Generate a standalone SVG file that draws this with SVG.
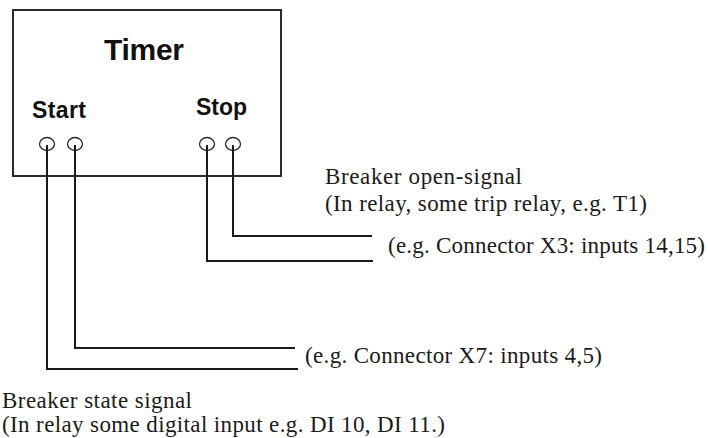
<svg xmlns="http://www.w3.org/2000/svg" width="708" height="438" viewBox="0 0 708 438">
<style>
.box{fill:#fff;stroke:#2a2a2a;stroke-width:2}
.wire{fill:none;stroke:#1a1a1a;stroke-width:2}
.pin{fill:#fff;stroke:#2a2a2a;stroke-width:1.3}
.hd{font-family:"Liberation Sans",Arial,sans-serif;font-weight:bold;fill:#111}
.lbl{font-family:"Liberation Serif","Times New Roman",serif;font-size:23px;fill:#1a1a1a}
</style>
<rect width="708" height="438" fill="#fff"/>
<g id="connectors">
<polyline class="wire" points="47,145 47,369 298,369"/>
<polyline class="wire" points="75,145 75,348 295,348"/>
<polyline class="wire" points="207,145 207,261 373,261"/>
<polyline class="wire" points="233,145 233,236 372,236"/>
</g>
<g id="timer">
<rect class="box" x="13" y="10" width="268" height="166"/>
<text class="hd" x="104" y="60" font-size="30" textLength="80">Timer</text>
<text class="hd" x="32" y="118" font-size="23" textLength="54">Start</text>
<text class="hd" x="196" y="115" font-size="23" textLength="51">Stop</text>
<ellipse class="pin" cx="47" cy="144" rx="7.5" ry="6.5"/>
<ellipse class="pin" cx="75" cy="144" rx="7.5" ry="6.5"/>
<ellipse class="pin" cx="207" cy="144" rx="7.5" ry="6.5"/>
<ellipse class="pin" cx="233" cy="144" rx="7.5" ry="6.5"/>
<line class="wire" x1="47" y1="145" x2="47" y2="176"/>
<line class="wire" x1="75" y1="145" x2="75" y2="176"/>
<line class="wire" x1="207" y1="145" x2="207" y2="176"/>
<line class="wire" x1="233" y1="145" x2="233" y2="176"/>
</g>
<g id="stop-label">
<text class="lbl" x="325" y="184" textLength="197">Breaker open-signal</text>
<text class="lbl" x="325" y="211" textLength="322">(In relay, some trip relay, e.g. T1)</text>
</g>
<g id="stop-connector-label">
<text class="lbl" x="388" y="253" textLength="317">(e.g. Connector X3: inputs 14,15)</text>
</g>
<g id="start-connector-label">
<text class="lbl" x="305" y="363" textLength="297">(e.g. Connector X7: inputs 4,5)</text>
</g>
<g id="start-label">
<text class="lbl" x="2" y="408" textLength="190">Breaker state signal</text>
<text class="lbl" x="2" y="432" textLength="443">(In relay some digital input e.g. DI 10, DI 11.)</text>
</g>
</svg>
